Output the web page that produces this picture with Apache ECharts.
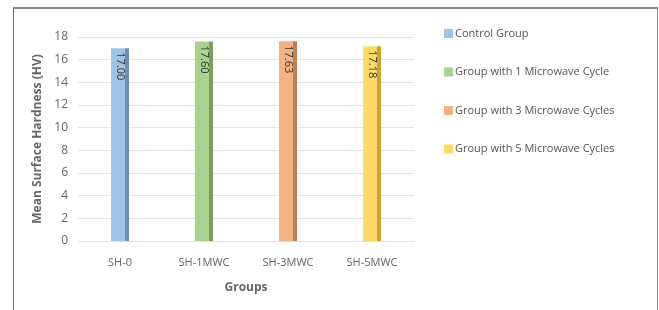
<!DOCTYPE html>
<html>
<head>
<meta charset="utf-8">
<script src="https://cdn.jsdelivr.net/npm/echarts@6/dist/echarts.min.js"></script>
<style>
  html, body { margin: 0; padding: 0; background: #fff; }
  #chart { width: 659px; height: 310px; }
  .frame {
    position: absolute; left: 13px; top: 7px; width: 643px; height: 310px;
    border-top: 2px solid #8a8a8a; border-left: 1px solid #6a6a6a; border-right: 1px solid #8a8a8a;
    pointer-events: none;
  }
</style>
</head>
<body>
<div id="chart"></div>
<div class="frame"></div>
<script>
// categories and values
const categories = ['SH-0', 'SH-1MWC', 'SH-3MWC', 'SH-5MWC']
const groupNames = ['Control Group', 'Group with 1 Microwave Cycle', 'Group with 3 Microwave Cycles', 'Group with 5 Microwave Cycles']
const hardness = [17.00, 17.60, 17.63, 17.18]
// bar colours: front face and darker side
const faceColors = ['#9dc3e6', '#a9d18e', '#f4b183', '#ffd966']
const sideColors = ['#6a8fb3', '#77a05c', '#c2804f', '#c9a632']

const chart = echarts.init(document.getElementById('chart'))

// one series per group, value placed on its own category
const seriesArr = groupNames.map((name, i) => {
  const data = categories.map((c, j) => (j === i ? hardness[i] : '-'))
  return {
    name: name,
    type: 'bar',
    stack: 'all',
    barWidth: 18,
    data: data,
    itemStyle: {
      color: new echarts.graphic.LinearGradient(0, 0, 1, 0, [
        { offset: 0, color: faceColors[i] },
        { offset: 0.78, color: faceColors[i] },
        { offset: 0.79, color: sideColors[i] },
        { offset: 1, color: sideColors[i] }
      ])
    },
    label: {
      show: true,
      position: 'insideTop',
      rotate: -90,
      distance: 7,
      align: 'left',
      verticalAlign: 'middle',
      offset: [-3, 0],
      formatter: p => p.value.toFixed(2),
      color: '#333',
      fontFamily: 'Open Sans',
      fontSize: 11
    }
  }
})

const option = {
  animation: false,
  textStyle: { fontFamily: 'Open Sans' },
  grid: { left: 78, right: 245, top: 37, bottom: 69 },
  legend: {
    orient: 'vertical',
    left: 439,
    top: 23,
    itemGap: 27.5,
    itemWidth: 9,
    itemHeight: 9,
    icon: 'rect',
    textStyle: { color: '#555', fontSize: 11, padding: [0, 0, 0, -3] },
    data: groupNames.map((n, i) => ({ name: n, itemStyle: { color: faceColors[i] } }))
  },
  xAxis: {
    type: 'category',
    data: categories,
    name: 'Groups',
    nameLocation: 'middle',
    nameGap: 41,
    nameTextStyle: { color: '#666', fontWeight: 'bold', fontSize: 12 },
    axisLine: { show: false },
    axisTick: { show: false },
    axisLabel: { color: '#666', fontSize: 11, margin: 16 }
  },
  yAxis: {
    type: 'value',
    min: 0,
    max: 18,
    interval: 2,
    name: 'Mean Surface Hardness (HV)',
    nameLocation: 'middle',
    nameGap: 33,
    nameTextStyle: { color: '#666', fontWeight: 'bold', fontSize: 12 },
    axisLabel: { color: '#666', fontSize: 12, margin: 10 },
    splitLine: { lineStyle: { color: '#e3e3e3' } }
  },
  series: seriesArr
}

chart.setOption(option)
</script>
</body>
</html>
